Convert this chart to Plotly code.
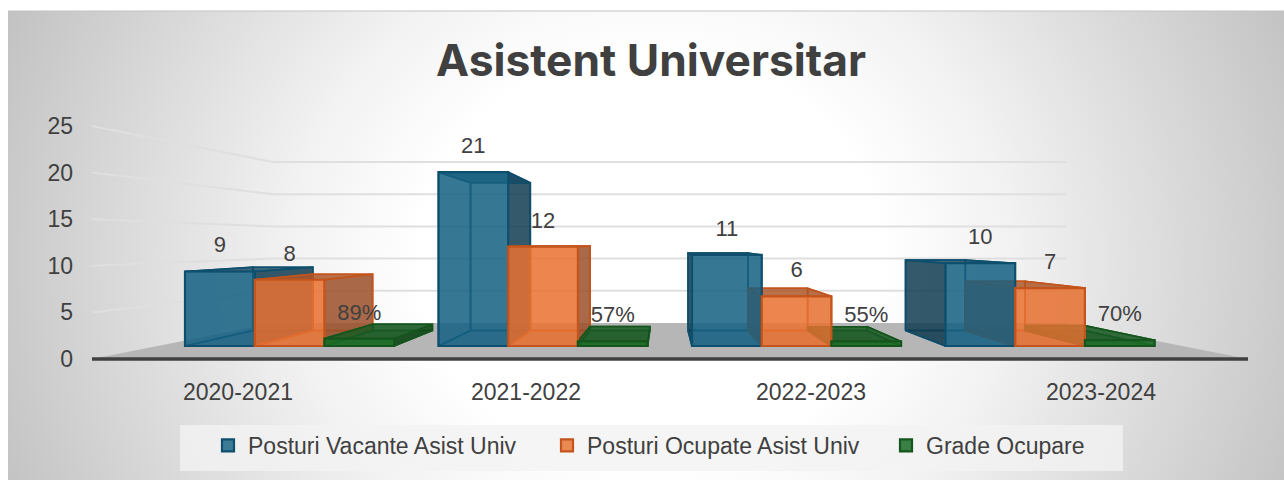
import base64
import plotly.graph_objects as go

# ---------- data ----------
categories = ["2020-2021", "2021-2022", "2022-2023", "2023-2024"]
posturi_vacante = [9, 21, 11, 10]
posturi_ocupate = [8, 12, 6, 7]
grade_ocupare = [0.89, 0.57, 0.55, 0.70]
series_names = ["Posturi Vacante Asist Univ", "Posturi Ocupate Asist Univ", "Grade Ocupare"]
grid_values = [0, 5, 10, 15, 20, 25]
title_text = "Asistent Universitar"

# ---------- geometry (pixel-like x axis, one-point perspective) ----------
W, H = 1284, 480
PLOT_H = 370
BASE_PX, UNIT_PX = 346, 8.28          # front plane
BACK_BASE_PX, BACK_UNIT_PX = 323, 6.44
TICK_BASE_PX, TICK_UNIT_PX = 359, 9.32
WALL_L0, WALL_L1, WALL_R, FLOOR_R = 92, 273, 1066, 1248
GROUP_X0, GROUP_STEP, BAR_W = 185, 253.5, 69.7
LABEL_X = [238, 526, 811, 1101]
VX, SX, VY_PX, SY = 664, 0.858, 243, 0.85
VY = (BASE_PX - VY_PX) / UNIT_PX

FONT = "Liberation Sans"
TXT = "#404040"

styles = [
    dict(front="rgba(21,96,130,0.82)", line="#0f4f6e", back="rgba(21,96,130,0.22)",
         side="rgba(14,56,76,0.80)", inner="rgba(21,96,130,0.22)",
         top="rgba(16,70,96,0.75)", floor="rgba(21,96,130,0.30)"),
    dict(front="rgba(233,113,50,0.82)", line="#c4541b", back="rgba(233,113,50,0.25)",
         side="rgba(150,78,40,0.80)", inner="rgba(190,95,45,0.25)",
         top="rgba(170,85,40,0.80)", floor="rgba(190,95,45,0.35)"),
    dict(front="rgba(25,107,36,0.85)", line="#14561d", back="rgba(25,107,36,0.45)",
         side="rgba(16,70,24,0.80)", inner="rgba(25,107,36,0.35)",
         top="rgba(25,90,36,0.75)", floor="rgba(25,90,36,0.65)"),
]
values = [posturi_vacante, posturi_ocupate, grade_ocupare]


def px_x(x):
    return VX + SX * (x - VX)


def px_y(v):
    return VY + SY * (v - VY)


def poly(points):
    xs = [p[0] for p in points] + [points[0][0], None]
    ys = [p[1] for p in points] + [points[0][1], None]
    return xs, ys


fig = go.Figure()

# ---------- walls and floor ----------
back_v = lambda g: (BASE_PX - BACK_BASE_PX + BACK_UNIT_PX * g) / UNIT_PX
tick_v = lambda g: (BASE_PX - TICK_BASE_PX + TICK_UNIT_PX * g) / UNIT_PX

fx = [WALL_L0, WALL_L1, WALL_R, FLOOR_R, WALL_L0]
fy = [tick_v(0), back_v(0), back_v(0), tick_v(0), tick_v(0)]
fig.add_trace(go.Scatter(x=fx, y=fy, mode="lines", fill="toself", fillcolor="#b6b6b6",
                         line=dict(width=0), showlegend=False, hoverinfo="skip"))
for g in grid_values[1:]:
    fig.add_trace(go.Scatter(x=[WALL_L0, WALL_L1, WALL_R], y=[tick_v(g), back_v(g), back_v(g)],
                             mode="lines", line=dict(color="#dfdfdf", width=2),
                             showlegend=False, hoverinfo="skip"))
fig.add_trace(go.Scatter(x=[WALL_L0, FLOOR_R], y=[tick_v(0), tick_v(0)], mode="lines",
                         line=dict(color="#404040", width=3.5),
                         showlegend=False, hoverinfo="skip"))

# ---------- hidden faces of the boxes, behind the fronts ----------
for s, (vals, st) in enumerate(zip(values, styles)):
    names = ["back", "floor", "inner", "side", "top"]
    faces = {n: ([], []) for n in names}
    for g, v in enumerate(vals):
        x0 = GROUP_X0 + GROUP_STEP * g + BAR_W * s
        x1 = x0 + BAR_W
        bx0, bx1 = px_x(x0), px_x(x1)
        b0, bv = px_y(0), px_y(v)
        left = [(x0, 0), (bx0, b0), (bx0, bv), (x0, v)]
        right = [(x1, 0), (bx1, b0), (bx1, bv), (x1, v)]
        outer, inner = (right, left) if x1 < VX else (left, right)
        for name, pts in [
            ("back", [(bx0, b0), (bx1, b0), (bx1, bv), (bx0, bv)]),
            ("floor", [(x0, 0), (x1, 0), (bx1, b0), (bx0, b0)]),
            ("inner", inner),
            ("side", outer),
            ("top", [(x0, v), (x1, v), (bx1, bv), (bx0, bv)]),
        ]:
            xs, ys = poly(pts)
            faces[name][0].extend(xs)
            faces[name][1].extend(ys)
    for name in names:
        fig.add_trace(go.Scatter(x=faces[name][0], y=faces[name][1], mode="lines", fill="toself",
                                 fillcolor=st[name], line=dict(color=st["line"], width=1.6),
                                 showlegend=False, hoverinfo="skip"))

# ---------- front faces (real bars, overlay axes so they sit on top) ----------
for s, (vals, st, nm) in enumerate(zip(values, styles, series_names)):
    xc = [GROUP_X0 + GROUP_STEP * g + BAR_W * (s + 0.5) for g in range(len(vals))]
    fig.add_trace(go.Bar(x=xc, y=vals, width=BAR_W, name=nm, xaxis="x2", yaxis="y2",
                         marker=dict(color=st["front"], line=dict(color=st["line"], width=2.2))))

# ---------- data labels ----------
for s, vals in enumerate(values):
    xc = [GROUP_X0 + GROUP_STEP * g + BAR_W * (s + 0.5) for g in range(len(vals))]
    txt = [f"{round(v * 100)}%" if s == 2 else str(v) for v in vals]
    fig.add_trace(go.Scatter(x=xc, y=[v + 24.5 / UNIT_PX for v in vals], text=txt, mode="text",
                             textposition="middle center", xaxis="x2", yaxis="y2",
                             textfont=dict(family=FONT, size=22, color=TXT),
                             showlegend=False, hoverinfo="skip", cliponaxis=False))

# ---------- carrier for the value-axis tick labels ----------
fig.add_trace(go.Scatter(x=[WALL_L0] * len(grid_values), y=grid_values, yaxis="y3", mode="markers",
                         marker=dict(opacity=0), showlegend=False, hoverinfo="skip"))

# ---------- background ----------
svg = f"""<svg xmlns='http://www.w3.org/2000/svg' width='{W}' height='{H}'>
<defs><radialGradient id='g' gradientUnits='userSpaceOnUse' cx='0' cy='0' r='1'
 gradientTransform='translate(650 260) scale(720 650)'>
<stop offset='0' stop-color='#ffffff'/><stop offset='0.32' stop-color='#ffffff'/>
<stop offset='0.5' stop-color='#f2f2f2'/><stop offset='1' stop-color='#bfbfbf'/></radialGradient></defs>
<rect width='{W}' height='{H}' fill='#ffffff'/>
<rect x='8' y='11' width='{W - 8}' height='{H - 11}' fill='url(#g)'/>
<rect x='8' y='10.5' width='{W - 8}' height='1' fill='#c4c4c4'/></svg>"""
uri = "data:image/svg+xml;base64," + base64.b64encode(svg.encode()).decode()

x_range = [0, W]
y_range = [(BASE_PX - PLOT_H) / UNIT_PX, BASE_PX / UNIT_PX]
tick_range = [(TICK_BASE_PX - PLOT_H) / TICK_UNIT_PX, TICK_BASE_PX / TICK_UNIT_PX]
paper_y = lambda px: (PLOT_H - px) / PLOT_H

fig.update_layout(
    width=W, height=H, margin=dict(l=0, r=0, t=0, b=H - PLOT_H),
    paper_bgcolor="white", plot_bgcolor="rgba(0,0,0,0)", barmode="overlay",
    font=dict(family=FONT, color=TXT),
    title=dict(text=f"<b>{title_text}</b>", x=651 / W, xanchor="center", y=1 - 60 / H,
               yanchor="middle", yref="container",
               font=dict(family="Inter", size=44.3, color=TXT)),
    images=[dict(source=uri, xref="paper", yref="paper", x=0, y=1, sizex=1, sizey=H / PLOT_H,
                 xanchor="left", yanchor="top", sizing="stretch", layer="below")],
    shapes=[dict(type="rect", xref="paper", yref="paper", x0=180 / W, x1=1123 / W,
                 y0=paper_y(471), y1=paper_y(425), fillcolor="rgba(242,242,242,0.8)",
                 line=dict(width=0), layer="below")],
    xaxis=dict(range=x_range, tickmode="array", tickvals=LABEL_X, ticktext=categories,
               showgrid=False, zeroline=False, showline=False, ticks="outside", ticklen=1,
               tickcolor="rgba(0,0,0,0)", tickfont=dict(family=FONT, size=23, color=TXT)),
    yaxis=dict(range=y_range, visible=False),
    xaxis2=dict(range=x_range, overlaying="x", visible=False),
    yaxis2=dict(range=y_range, overlaying="y", visible=False),
    yaxis3=dict(range=tick_range, overlaying="y", anchor="free", position=73 / W, side="left",
                tickmode="array", tickvals=grid_values, showgrid=False, zeroline=False,
                showline=False, tickfont=dict(family=FONT, size=23, color=TXT)),
    legend=dict(orientation="h", x=208 / W, xanchor="left", y=paper_y(424), yanchor="top",
                bgcolor="rgba(0,0,0,0)", entrywidth=294, entrywidthmode="pixels",
                font=dict(family=FONT, size=23, color=TXT), traceorder="normal"),
)

fig.write_html("out.html", config={"displayModeBar": False},
               post_script="document.body.style.margin='0';document.body.style.overflow='hidden';")
